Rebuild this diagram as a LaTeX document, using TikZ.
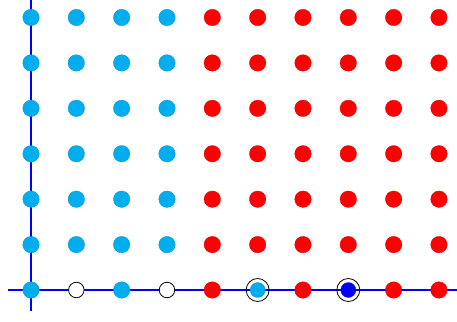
\documentclass[tikz,border=0pt]{standalone}
\definecolor{pcyan}{RGB}{0,174,239}
\tikzset{
  axis/.style={blue, line width=1.9pt},
  cdot/.style={circle, fill=pcyan, draw=pcyan!85!black, line width=0.3pt, minimum size=16.5pt, inner sep=0pt},
  rdot/.style={circle, fill=red, draw=red!85!black, line width=0.3pt, minimum size=16.5pt, inner sep=0pt},
  bdot/.style={circle, fill=blue, draw=blue!85!black, line width=0.3pt, minimum size=15pt, inner sep=0pt},
  odot/.style={circle, fill=white, draw=black, line width=0.8pt, minimum size=15.5pt, inner sep=0pt},
  ring/.style={circle, draw=black, line width=0.8pt, minimum size=23pt, inner sep=0pt},
}
\begin{document}
\begin{tikzpicture}[x=1pt,y=-1pt]
\useasboundingbox (0,0) rectangle (457,321);
\coordinate (vt) at (31,0);
\coordinate (vb) at (31,311);
\coordinate (hl) at (8,290);
\coordinate (hr) at (457,290);
\draw[axis] (vt) -- (vb);
\draw[axis] (hl) -- (hr);
\foreach \r in {0,...,5}{
  \foreach \c in {0,...,3}{
    \node[cdot] (d-\r-\c) at ({31+45.33*\c},{17.5+45.42*\r}) {};
  }
  \foreach \c in {4,...,9}{
    \node[rdot] (d-\r-\c) at ({31+45.33*\c},{17.5+45.42*\r}) {};
  }
}
\def\yb{290}
\node[cdot] (b0) at (31,\yb) {};
\node[odot] (b1) at ({31+45.33},\yb) {};
\node[cdot] (b2) at ({31+45.33*2},\yb) {};
\node[odot] (b3) at ({31+45.33*3},\yb) {};
\node[rdot] (b4) at ({31+45.33*4},\yb) {};
\node[ring] (r5) at ({31+45.33*5},\yb) {};
\node[cdot, minimum size=15pt] (b5) at ({31+45.33*5},\yb) {};
\node[rdot] (b6) at ({31+45.33*6},\yb) {};
\node[ring] (r7) at ({31+45.33*7},\yb) {};
\node[bdot] (b7) at ({31+45.33*7},\yb) {};
\node[rdot] (b8) at ({31+45.33*8},\yb) {};
\node[rdot] (b9) at ({31+45.33*9},\yb) {};
\end{tikzpicture}
\end{document}
